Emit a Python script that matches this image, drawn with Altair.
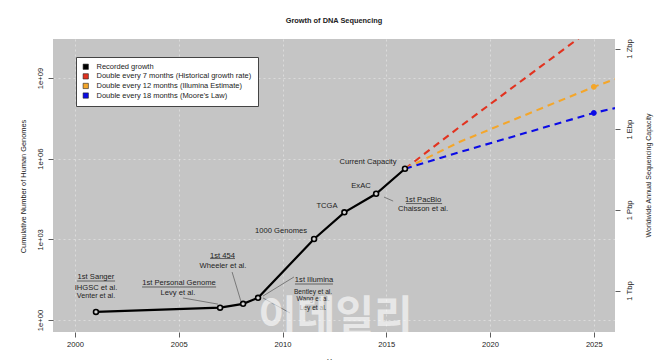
import altair as alt
import pandas as pd

FONT = "Liberation Sans"
TXT = "#222222"

# ---------------- data ----------------
series_names = [
    "Recorded growth",
    "Double every 7 months (Historical growth rate)",
    "Double every 12 months (Illumina Estimate)",
    "Double every 18 months (Moore's Law)",
]
series_colors = ["#000000", "#E2321F", "#F4A62A", "#0B0BE6"]

rec_year = [2001.01, 2006.99, 2008.10, 2008.82, 2011.52, 2012.98, 2014.51, 2015.90]
rec_genomes = [2.0, 2.87, 4.0, 6.7, 1030, 10100, 49500, 421000]

proj_year = [2015.90, 2018.55, 2025.0, 2026.02]
red_genomes = [421000, 1.55e7, 7.9e10, 3.2e11]
orange_genomes = [421000, 4.27e6, 4.68e8, 9.1e8]
blue_genomes = [421000, 1.76e6, 5.0e7, 7.6e7]

marker_year = 2025.0
marker_genomes = [7.9e10, 4.68e8, 5.0e7]

label_text = ["1st Sanger", "IHGSC et al.", "Venter et al.", "1st Personal Genome",
              "Levy et al.", "1st 454", "Wheeler et al.", "1st Illumina",
              "Bentley et al.", "Wang et al.", "Ley et al.", "1000 Genomes",
              "TCGA", "ExAC", "Current Capacity", "1st PacBio", "Chaisson et al."]
label_year = [2001.01, 2001.01, 2001.01, 2005.01, 2004.96, 2007.11, 2007.13, 2011.52,
              2011.47, 2011.47, 2011.47, 2009.93, 2012.14, 2013.78, 2014.12, 2016.77,
              2016.77]
label_genomes = [39.7, 15.5, 7.8, 23.7, 10.1, 246, 106, 30.7, 11.0, 5.8, 2.8, 2036,
                 17300, 95800, 748000, 28900, 14000]
label_size = [7.6, 7.6, 7.2, 7.6, 7.6, 7.6, 7.6, 7.6, 6.6, 6.6, 6.6, 7.6, 7.6, 7.6,
              7.6, 7.6, 7.6]

underline_start = [2000.10, 2003.23, 2006.51, 2010.60, 2015.95]
underline_end = [2001.93, 2006.80, 2007.71, 2012.43, 2017.69]
underline_genomes = [28.2, 16.9, 193, 21.8, 21400]

leader_year = [2005.20, 2007.57, 2009.06, 2009.06, 2014.89]
leader_year2 = [2006.89, 2007.99, 2010.55, 2010.36, 2015.33]
leader_genomes = [6.6, 60.8, 7.8, 6.6, 37300]
leader_genomes2 = [3.9, 5.1, 39.7, 1.82, 26500]

left_ticks = [1, 1e3, 1e6, 1e9]
right_ticks = [1e12, 1e15, 1e18, 1e21]
x_ticks = [2000, 2005, 2010, 2015, 2020, 2025]

watermark_text = ["이데일리"]
watermark_year = [2012.55]
watermark_genomes = [1.2]

# ---------------- tables ----------------
rec_df = pd.DataFrame({"year": rec_year, "genomes": rec_genomes})
proj_dfs = [pd.DataFrame({"year": proj_year, "genomes": g})
            for g in [red_genomes, orange_genomes, blue_genomes]]
legend_df = pd.DataFrame({"year": [rec_year[-1]] * 4, "genomes": [rec_genomes[-1]] * 4,
                          "series": series_names})
label_df = pd.DataFrame({"year": label_year, "genomes": label_genomes, "text": label_text,
                         "size": label_size})
under_df = pd.DataFrame({"year": underline_start, "year2": underline_end,
                         "genomes": underline_genomes})
leader_df = pd.DataFrame({"year": leader_year, "year2": leader_year2,
                          "genomes": leader_genomes, "genomes2": leader_genomes2})
wm_df = pd.DataFrame({"year": watermark_year, "genomes": watermark_genomes,
                      "text": watermark_text})
right_df = pd.DataFrame({"bp": [right_ticks[0], right_ticks[-1]]})

# ---------------- scales / axes ----------------
xs = alt.Scale(domain=[1998.94, 2026.02], nice=False, zero=False)
ys = alt.Scale(type="log", domain=[0.358, 2.82e10], nice=False)
cs = alt.Scale(domain=series_names, range=series_colors)

GRID = dict(grid=True, gridColor="white", gridDash=[2, 3], gridWidth=0.7, gridOpacity=0.55)

x_axis = alt.Axis(values=x_ticks, format="d", title="Year", **GRID,
                  domain=False, tickSize=5, tickColor="#333", tickWidth=0.8,
                  labelFontSize=7.6, labelPadding=3, labelColor=TXT,
                  titleFontSize=7.5, titleFontWeight="normal", titleBaseline="top",
                  titleY=25, titleX=281, titleColor=TXT)

y_axis = alt.Axis(values=left_ticks,
                  labelExpr="datum.value < 10 ? '1e+00' : datum.value < 1e4 ? '1e+03' : datum.value < 1e7 ? '1e+06' : '1e+09'",
                  labelAngle=270, labelAlign="center", labelBaseline="bottom",
                  labelPadding=4, labelFontSize=7.6, labelColor=TXT,
                  tickSize=5, tickColor="#333", tickWidth=0.8, domain=False,
                  **GRID,
                  title="Cumulative Number of Human Genomes", titleFontSize=7.4,
                  titleFontWeight="normal", titleAngle=270, titleBaseline="middle",
                  titleX=-30, titleY=147, titleColor=TXT)

X = alt.X("year:Q", scale=xs, axis=x_axis)
Y = alt.Y("genomes:Q", scale=ys, axis=y_axis)

# ---------------- layers ----------------
rec_line = alt.Chart(rec_df).mark_line(color="black", strokeWidth=2.2).encode(x=X, y=Y)

proj_lines = [
    alt.Chart(d).mark_line(color=c, strokeWidth=2.1, strokeDash=[7, 5], clip=True).encode(x=X, y=Y)
    for d, c in zip(proj_dfs, series_colors[1:])
]

proj_markers = [
    alt.Chart(pd.DataFrame({"year": [marker_year], "genomes": [g]})).mark_circle(
        size=24, opacity=1, clip=True, fill=c, stroke=c, strokeWidth=1).encode(x=X, y=Y)
    for g, c in zip(marker_genomes, series_colors[1:])
]

rec_points = alt.Chart(rec_df).mark_circle(size=24, fill="#d4d4d4", stroke="black",
                                           strokeWidth=1.6, opacity=1).encode(x=X, y=Y)

legend_driver = alt.Chart(legend_df).mark_square(opacity=0, size=1).encode(
    x=X, y=Y,
    color=alt.Color("series:N", scale=cs, sort=series_names,
                    legend=alt.Legend(title=None, orient="none", legendX=23, legendY=18,
                                      fillColor="white", strokeColor="#444",
                                      padding=6, symbolType="square", symbolSize=28,
                                      symbolOpacity=1, symbolStrokeColor="#222",
                                      symbolStrokeWidth=0.6, labelFontSize=7.5,
                                      labelFont=FONT, labelOffset=7, rowPadding=0.6,
                                      labelColor=TXT, labelLimit=400)))

labels = alt.Chart(label_df).mark_text(font=FONT, color=TXT,
                                       baseline="middle", align="center").encode(
    x=X, y=Y, text="text:N", size=alt.Size("size:Q", scale=None, legend=None))

underlines = alt.Chart(under_df).mark_rule(color="#333", strokeWidth=0.7).encode(
    x=X, x2="year2:Q", y=Y)

leaders = alt.Chart(leader_df).mark_rule(color="#444", strokeWidth=0.6).encode(
    x=X, x2="year2:Q", y=Y, y2="genomes2:Q")

watermark = alt.Chart(wm_df).mark_text(font="Noto Sans CJK KR", fontSize=42,
                                       fontWeight="bold", color="white", opacity=0.6,
                                       baseline="middle", align="center").encode(
    x=X, y=Y, text="text:N")

left = alt.layer(rec_line, *proj_lines, leaders, underlines, rec_points, *proj_markers,
                 labels, legend_driver, watermark)

right = alt.Chart(right_df).mark_point(opacity=0).encode(
    y=alt.Y("bp:Q",
            scale=alt.Scale(type="log", domain=[0.358 * 8e10, 2.82e10 * 8e10], nice=False),
            axis=alt.Axis(orient="right", values=right_ticks,
                          labelExpr="datum.value < 1e13 ? '1 Tbp' : datum.value < 1e16 ? '1 Pbp' : datum.value < 1e19 ? '1 Ebp' : '1 Zbp'",
                          labelAngle=270, labelAlign="center", labelBaseline="top",
                          labelPadding=5, labelFontSize=7.6, labelColor=TXT,
                          tickSize=5, tickColor="#333", tickWidth=0.8, domain=False,
                          grid=False,
                          title="Worldwide Annual Sequencing Capacity", titleFontSize=7,
                          titleFontWeight="normal", titleAngle=270,
                          titleBaseline="middle", titleX=33, titleY=136,
                          titleColor=TXT)),
    x=alt.value(0))

chart = alt.layer(left, right).resolve_scale(y="independent").properties(
    width=562, height=293,
    autosize=alt.AutoSizeParams(type="none"),
    padding={"left": 45, "top": 31, "right": 47, "bottom": 28},
    title=alt.TitleParams("Growth of DNA Sequencing", font=FONT, fontSize=7.4,
                          fontWeight="bold", anchor="middle", offset=14, color=TXT),
    background="white",
).configure_view(fill="#C5C5C5", stroke=None).configure_axis(
    labelFont=FONT, titleFont=FONT)

chart.save("out.html", embed_options={"renderer": "svg", "actions": False})
